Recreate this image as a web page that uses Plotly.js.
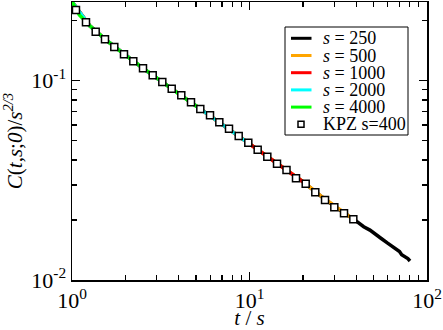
<!DOCTYPE html>
<html>
<head>
<meta charset="utf-8">
<script src="https://cdn.plot.ly/plotly-3.0.1.min.js"></script>
<style>
  html, body { margin: 0; padding: 0; background: #fff; }
  #chart { width: 443px; height: 330px; }
</style>
</head>
<body>
<div id="chart"></div>
<script>
// scaled autocorrelation C(t,s;0)/s^(2/3) against t/s
const t250 = [1, 1.259, 1.585, 1.995, 2.512, 3.162, 3.981, 5.012, 6.31, 7.943, 10, 12.59, 15.85, 19.95, 25.12, 31.62, 39.81, 44, 47.7, 50.1, 55, 60, 63.1, 66, 68, 70, 72, 75, 78, 80.2];
const c250 = [0.249, 0.1888, 0.1578, 0.1343, 0.1153, 0.0998, 0.0863, 0.0746, 0.0647, 0.0561, 0.0483, 0.0416, 0.0361, 0.0312, 0.0264, 0.0227, 0.0198, 0.0185, 0.0178, 0.0173, 0.0162, 0.0153, 0.0148, 0.0143, 0.0141, 0.0139, 0.0134, 0.0131, 0.0128, 0.01245];

const t500 = [1, 1.259, 1.585, 1.995, 2.512, 3.162, 3.981, 5.012, 6.31, 7.943, 10, 12.59, 15.85, 19.95, 25.12, 31.62, 40];
const c500 = [0.249, 0.1888, 0.1578, 0.1343, 0.1153, 0.0998, 0.0863, 0.0746, 0.0647, 0.0561, 0.0483, 0.0416, 0.0361, 0.0312, 0.0265, 0.0228, 0.0197];

const t1000 = [1, 1.259, 1.585, 1.995, 2.512, 3.162, 3.981, 5.012, 6.31, 7.943, 10, 12.59, 15.85, 20];
const c1000 = [0.249, 0.1888, 0.1578, 0.1343, 0.1153, 0.0998, 0.0863, 0.0746, 0.0647, 0.0561, 0.0483, 0.0415, 0.0360, 0.0311];

const t2000 = [1, 1.259, 1.585, 1.995, 2.512, 3.162, 3.981, 5.012, 6.31, 7.943, 10];
const c2000 = [0.249, 0.1888, 0.1578, 0.1343, 0.1153, 0.0998, 0.0862, 0.0745, 0.0645, 0.0559, 0.0482];

const t4000 = [1, 1.05, 1.1, 1.259, 1.585, 1.995, 2.512, 3.162, 3.981, 5.05];
const c4000 = [0.249, 0.228, 0.214, 0.1888, 0.1578, 0.1343, 0.1153, 0.0998, 0.0862, 0.0742];

const tKpz = [1.053, 1.199, 1.36, 1.534, 1.731, 1.963, 2.215, 2.512, 2.849, 3.227, 3.646, 4.128, 4.682, 5.283, 5.991, 6.76, 7.665, 8.694, 9.846, 11.12, 12.6, 14.29, 16.16, 18.28, 20.73, 23.48, 26.64, 30.05, 34.08, 38.45];
const cKpz = [0.2263, 0.1963, 0.1762, 0.1613, 0.1476, 0.1357, 0.1251, 0.1154, 0.1064, 0.0985, 0.0912, 0.0845, 0.0779, 0.0721, 0.0671, 0.0618, 0.0574, 0.0528, 0.0489, 0.0451, 0.0416, 0.0383, 0.0356, 0.0324, 0.0304, 0.0276, 0.0252, 0.0232, 0.0216, 0.0202];

const seriesNames = ['<i>s</i> = 250', '<i>s</i> = 500', '<i>s</i> = 1000', '<i>s</i> = 2000', '<i>s</i> = 4000'];
const seriesColors = ['#000000', '#ffa500', '#ff0000', '#00ffff', '#00ff00'];
const kpzName = 'KPZ s=400';

const xTickVals = [1, 10, 100];
const xTickText = ['10<sup>0</sup>', '10<sup>1</sup>', '10<sup>2</sup>'];
const yTickVals = [0.01, 0.1];
const yTickText = ['10<sup>-2</sup>', '10<sup>-1</sup>'];
const xMinor = [2, 3, 4, 5, 6, 7, 8, 9, 20, 30, 40, 50, 60, 70, 80, 90];
const yMinor = [0.02, 0.03, 0.04, 0.05, 0.06, 0.07, 0.08, 0.09, 0.2];

const serif = 'Liberation Serif';

const xs = [t250, t500, t1000, t2000, t4000];
const ys = [c250, c500, c1000, c2000, c4000];

const traces = xs.map((x, i) => ({
  x: x, y: ys[i], name: seriesNames[i], mode: 'lines', type: 'scatter',
  line: { color: seriesColors[i], width: 3.5 }
}));
traces.push({
  x: tKpz, y: cKpz, name: kpzName, mode: 'markers', type: 'scatter',
  marker: { symbol: 'square', size: 7, color: '#ffffff', line: { color: '#000000', width: 1.5 } }
});

// hand-built legend box (plotly's own legend rows are too tall for this size)
const shapes = [];
const annotations = [];
const plotW = 355, plotH = 278;          // plot area in px
const px = v => v / plotW;               // px offset from left -> paper x
const py = v => 1 - v / plotH;           // px offset from top  -> paper y
shapes.push({ type: 'rect', xref: 'paper', yref: 'paper',
  x0: px(213), x1: px(336), y0: py(133), y1: py(25),
  fillcolor: '#fff', line: { color: '#000', width: 1 } });
const rowTop = 36.3, rowGap = 17.2;
seriesNames.forEach((name, i) => {
  const yy = py(rowTop + i * rowGap);
  shapes.push({ type: 'line', xref: 'paper', yref: 'paper',
    x0: px(219), x1: px(239.5), y0: yy, y1: yy,
    line: { color: seriesColors[i], width: 3 } });
  annotations.push({ xref: 'paper', yref: 'paper', x: px(249), y: yy,
    xanchor: 'left', yanchor: 'middle', showarrow: false, text: name,
    font: { family: serif, size: 18, color: '#000' } });
});
{
  const yy = py(rowTop + 5 * rowGap);
  shapes.push({ type: 'rect', xref: 'paper', yref: 'paper',
    x0: px(226), x1: px(232), y0: yy - 3 / plotH, y1: yy + 3 / plotH,
    fillcolor: '#fff', line: { color: '#000', width: 1.5 } });
  annotations.push({ xref: 'paper', yref: 'paper', x: px(249), y: yy,
    xanchor: 'left', yanchor: 'middle', showarrow: false, text: kpzName,
    font: { family: serif, size: 18, color: '#000' } });
}

const layout = {
  width: 443, height: 330,
  margin: { l: 72, r: 16, t: 2, b: 50 },
  paper_bgcolor: '#fff', plot_bgcolor: '#fff',
  showlegend: false,
  font: { family: serif, size: 22, color: '#000' },
  xaxis: {
    type: 'log', showgrid: false, zeroline: false,
    showline: true, linecolor: '#000', linewidth: 1.5, mirror: 'allticks',
    ticks: 'inside', ticklen: 8, tickwidth: 1.2, tickcolor: '#000',
    tickmode: 'array', tickfont: { family: serif, size: 22, color: '#000' },
    range: [0, 2],
    tickvals: xTickVals, ticktext: xTickText,
    minor: { tickmode: 'array', tickvals: xMinor, ticks: 'inside', ticklen: 5, tickwidth: 1.2, tickcolor: '#000', showgrid: false },
    title: { text: '<i>t</i> / <i>s</i>', font: { family: serif, size: 21, color: '#000' }, standoff: 0 }
  },
  yaxis: {
    type: 'log', showgrid: false, zeroline: false,
    showline: true, linecolor: '#000', linewidth: 1.5, mirror: 'allticks',
    ticks: 'inside', ticklen: 8, tickwidth: 1.2, tickcolor: '#000',
    tickmode: 'array', tickfont: { family: serif, size: 22, color: '#000' },
    range: [-2, -0.605],
    tickvals: yTickVals, ticktext: yTickText,
    minor: { tickmode: 'array', tickvals: yMinor, ticks: 'inside', ticklen: 5, tickwidth: 1.2, tickcolor: '#000', showgrid: false },
    title: { text: '<i>C</i>(<i>t</i>,<i>s</i>;<i>0</i>)/<i>s</i><sup><i>2/3</i></sup>', font: { family: serif, size: 21, color: '#000' }, standoff: 6 }
  },
  shapes: shapes,
  annotations: annotations
};

Plotly.newPlot('chart', traces, layout, { displayModeBar: false, staticPlot: true });
</script>
</body>
</html>
